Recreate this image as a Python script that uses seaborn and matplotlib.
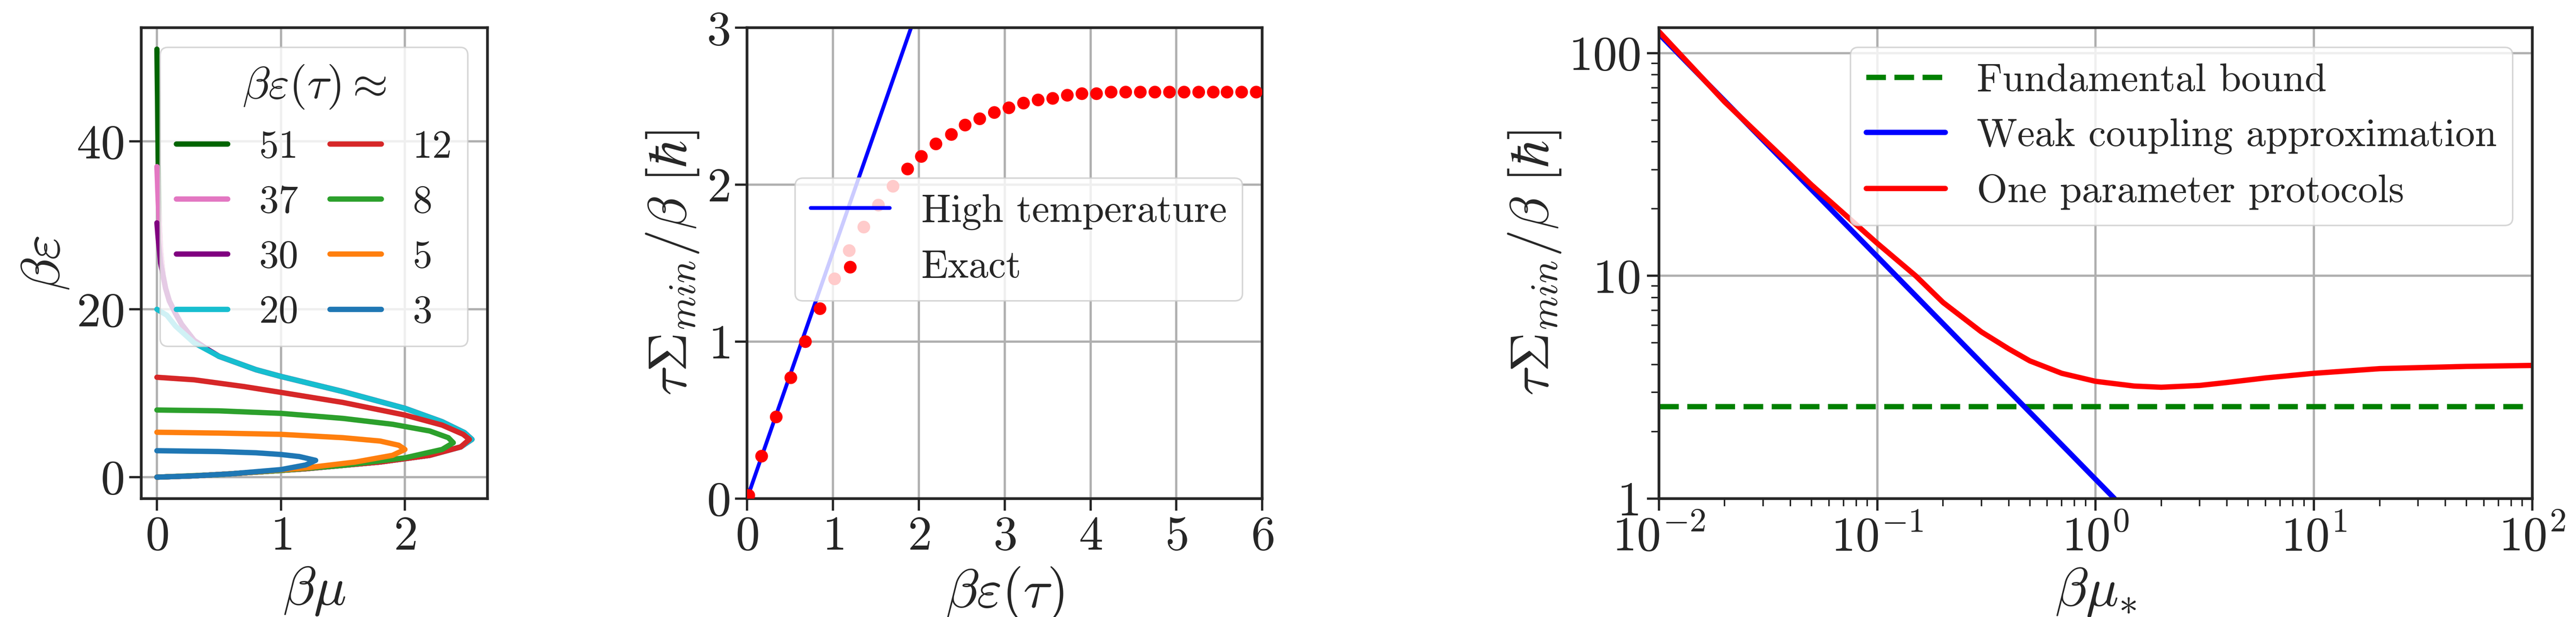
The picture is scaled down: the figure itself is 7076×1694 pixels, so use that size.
import numpy as np
import pandas as pd
import matplotlib
matplotlib.use("Agg")
import matplotlib.pyplot as plt
import seaborn as sns
from matplotlib.ticker import FixedLocator, FixedFormatter, NullFormatter

sns.set_style("ticks")
plt.rcParams['font.family'] = ['serif']
plt.rcParams['font.serif'] = ['cmr10', 'DejaVu Serif']
plt.rcParams['mathtext.fontset'] = 'cm'
plt.rcParams['axes.formatter.use_mathtext'] = True
plt.rcParams['axes.unicode_minus'] = False

# ---------- Panel 1 data: (beta mu, beta eps) curves ----------
labels1 = ["51", "37", "30", "20", "12", "8", "5", "3"]
colors1 = ["darkgreen", "tab:pink", "purple", "tab:cyan", "tab:red", "tab:green", "tab:orange", "tab:blue"]
lower_mu = [2.45, 2.2, 1.8, 1.2, 0.6, 0.3, 0.0]
lower_eps = [3.6, 2.6, 1.8, 1.0, 0.4, 0.15, 0.0]
upper_mu_20 = [0.0, 0.08, 0.15, 0.3, 0.5, 0.8, 1.0, 1.5, 2.0, 2.3, 2.48, 2.54]
upper_eps_20 = [20.0, 19.3, 18.0, 16.0, 14.4, 12.8, 12.0, 10.2, 8.2, 6.6, 5.3, 4.5]
tail_mu = [0.2, 0.3, 0.4, 0.5, 0.8, 1.0, 1.5, 2.0, 2.3, 2.48, 2.54]
tail_eps = [18.2, 16.3, 15.3, 14.4, 12.8, 12.0, 10.2, 8.2, 6.6, 5.3, 4.5]
mu51 = [0.0, 0.005, 0.01, 0.015, 0.02, 0.03, 0.05, 0.07, 0.1, 0.15] + tail_mu
eps51 = [51.0, 45.0, 38.0, 33.0, 30.0, 27.0, 24.0, 22.5, 21.0, 19.5] + tail_eps
mu37 = [0.0, 0.01, 0.02, 0.03, 0.05, 0.07, 0.1, 0.15] + tail_mu
eps37 = [37.0, 33.0, 30.0, 27.0, 24.0, 22.5, 21.0, 19.5] + tail_eps
mu30 = [0.0, 0.01, 0.02, 0.03, 0.05, 0.07, 0.1, 0.15] + tail_mu
eps30 = [30.3, 28.5, 27.0, 25.5, 24.0, 22.5, 21.0, 19.5] + tail_eps
mu12 = [0.0, 0.3, 0.7, 1.0, 1.5, 2.0, 2.3, 2.47, 2.52]
eps12 = [11.9, 11.6, 10.8, 10.1, 8.9, 7.4, 6.2, 5.1, 4.5]
mu8 = [0.0, 0.5, 1.0, 1.5, 1.9, 2.2, 2.35, 2.39, 2.3, 2.0, 1.5, 1.0, 0.5, 0.0]
eps8 = [8.0, 7.9, 7.6, 7.0, 6.3, 5.5, 4.7, 4.1, 3.3, 2.3, 1.4, 0.8, 0.3, 0.0]
mu5 = [0.0, 0.5, 1.0, 1.5, 1.8, 1.95, 2.0, 1.9, 1.6, 1.2, 0.7, 0.3, 0.0]
eps5 = [5.35, 5.25, 5.1, 4.7, 4.3, 3.8, 3.3, 2.6, 1.8, 1.1, 0.5, 0.15, 0.0]
mu3 = [0.0, 0.5, 0.8, 1.0, 1.15, 1.28, 1.2, 1.0, 0.6, 0.3, 0.0]
eps3 = [3.15, 3.05, 2.9, 2.7, 2.45, 2.0, 1.45, 0.9, 0.4, 0.15, 0.0]
curves_mu = [mu51 + lower_mu, mu37 + lower_mu, mu30 + lower_mu, upper_mu_20 + lower_mu,
             mu12 + lower_mu, mu8, mu5, mu3]
curves_eps = [eps51 + lower_eps, eps37 + lower_eps, eps30 + lower_eps, upper_eps_20 + lower_eps,
              eps12 + lower_eps, eps8, eps5, eps3]

# ---------- Panel 2 data ----------
ht_x = [0.0, 1.91]
ht_y = [0.0, 3.0]
ex_x = [0.02, 0.17, 0.34, 0.51, 0.68, 0.85, 1.02, 1.19, 1.36, 1.53, 1.70, 1.87, 2.03, 2.20,
        2.38, 2.54, 2.71, 2.88, 3.05, 3.22, 3.39, 3.56, 3.73, 3.90, 4.07, 4.24, 4.41, 4.58,
        4.75, 4.92, 5.09, 5.26, 5.43, 5.59, 5.76, 5.93]
ex_y = [0.02, 0.27, 0.52, 0.77, 1.0, 1.21, 1.40, 1.58, 1.73, 1.87, 1.99, 2.10, 2.18, 2.26,
        2.32, 2.38, 2.42, 2.46, 2.49, 2.52, 2.54, 2.55, 2.57, 2.58, 2.58, 2.59, 2.59, 2.59,
        2.59, 2.59, 2.59, 2.59, 2.59, 2.59, 2.59, 2.59]

# ---------- Panel 3 data ----------
fb_x = [0.01, 100.0]
fb_y = [2.59, 2.59]
wc_x = [0.01, 1.22]
wc_y = [122.0, 1.0]
op_x = [0.01, 0.02, 0.05, 0.1, 0.15, 0.2, 0.3, 0.4, 0.5, 0.7, 1.0, 1.5, 2.0, 3.0, 4.0, 6.0,
        10.0, 20.0, 50.0, 100.0]
op_y = [125.0, 60.4, 25.6, 14.0, 10.0, 7.6, 5.6, 4.7, 4.15, 3.65, 3.36, 3.2, 3.16, 3.22,
        3.32, 3.48, 3.65, 3.83, 3.92, 3.96]

fig = plt.figure(figsize=(7076 / 300, 1694 / 300), dpi=300)
ax1 = fig.add_axes([0.0548, 0.192, 0.1345, 0.763])
ax2 = fig.add_axes([0.290, 0.192, 0.200, 0.763])
ax3 = fig.add_axes([0.644, 0.192, 0.339, 0.763])

TF = 32
LF = 36
LEG = 26

for mu, eps, lab, c in zip(curves_mu, curves_eps, labels1, colors1):
    sns.lineplot(x=mu, y=eps, sort=False, estimator=None, color=c, lw=3.5, label=lab, ax=ax1)
ax1.set_xticks([0, 1, 2])
ax1.set_yticks([0, 20, 40])
ax1.set_xlabel(r"$\beta\mu$", fontsize=LF)
ax1.set_ylabel(r"$\beta\varepsilon$", fontsize=LF)
ax1.grid(True, color="#b0b0b0", lw=1.5)
ax1.legend(title=r"$\beta\varepsilon(\tau)\approx$", ncol=2, loc="upper right",
           fontsize=LEG, title_fontsize=LEG + 4, columnspacing=0.8, handlelength=1.3,
           handletextpad=0.8)

sns.lineplot(x=ht_x, y=ht_y, color="blue", lw=2.5, label="High temperature", ax=ax2)
sns.scatterplot(x=ex_x, y=ex_y, color="red", s=70, edgecolor="none", label="Exact", ax=ax2, zorder=3)
ax2.set_xlim(0, 6)
ax2.set_ylim(0, 3)
ax2.set_xticks(range(7))
ax2.set_yticks([0, 1, 2, 3])
ax2.set_xlabel(r"$\beta\varepsilon(\tau)$", fontsize=LF)
ax2.set_ylabel(r"$\tau\Sigma_{min}/\beta\ [\hbar]$", fontsize=LF)
ax2.grid(True, color="#b0b0b0", lw=1.5)
ax2.legend(loc="center right", fontsize=LEG, bbox_to_anchor=(1.0, 0.55))

sns.lineplot(x=fb_x, y=fb_y, color="green", lw=3.5, ls="--", label="Fundamental bound", ax=ax3)
sns.lineplot(x=wc_x, y=wc_y, color="blue", lw=3.5, label="Weak coupling approximation", ax=ax3)
sns.lineplot(x=op_x, y=op_y, color="red", lw=3.5, label="One parameter protocols", ax=ax3)
ax3.set_xscale("log")
ax3.set_yscale("log")
ax3.set_xlim(0.01, 100)
ax3.set_ylim(1, 130)
ax3.yaxis.set_major_locator(FixedLocator([1, 10, 100]))
ax3.yaxis.set_major_formatter(FixedFormatter(["1", "10", "100"]))
ax3.yaxis.set_minor_formatter(NullFormatter())
ax3.set_xlabel(r"$\beta\mu_{*}$", fontsize=LF)
ax3.set_ylabel(r"$\tau\Sigma_{min}/\beta\ [\hbar]$", fontsize=LF)
ax3.grid(True, which="major", color="#b0b0b0", lw=1.5)
ax3.legend(loc="upper right", fontsize=LEG)

for ax in (ax1, ax2, ax3):
    ax.tick_params(labelsize=TF, width=1.5, length=8)
    ax.tick_params(which="minor", width=1.0, length=5)
    for s in ax.spines.values():
        s.set_linewidth(1.8)

fig.savefig("out.png", dpi=300)
